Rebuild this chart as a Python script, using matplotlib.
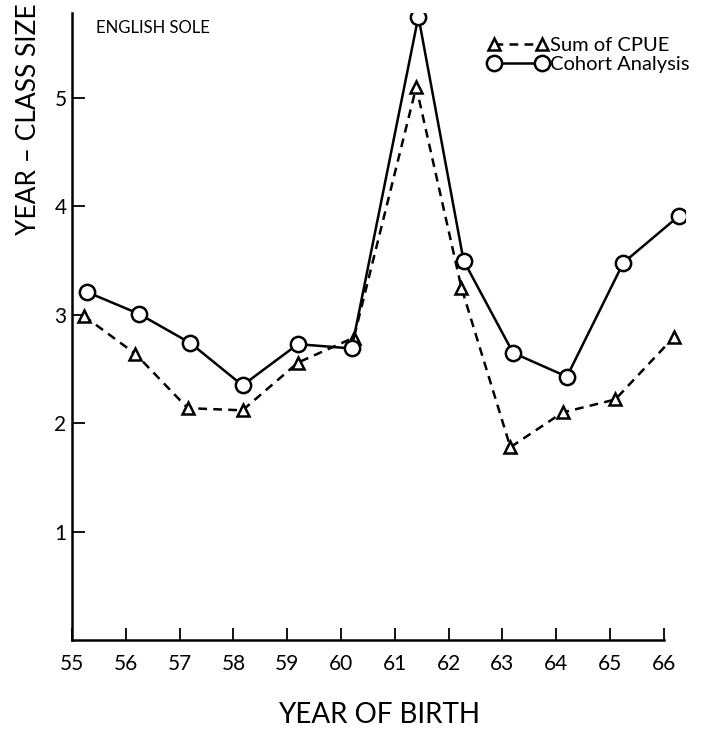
import matplotlib.pyplot as plt

# values (x is slightly offset from the year ticks)
x_cohort = [55.28, 56.24, 57.2, 58.17, 59.2, 60.2, 61.44, 62.28, 63.2, 64.2, 65.25, 66.28]
y_cohort = [3.21, 3.01, 2.74, 2.35, 2.73, 2.69, 5.75, 3.50, 2.65, 2.43, 3.48, 3.91]

x_cpue = [55.22, 56.18, 57.15, 58.17, 59.2, 60.24, 61.4, 62.24, 63.15, 64.12, 65.1, 66.2]
y_cpue = [2.99, 2.64, 2.14, 2.12, 2.56, 2.79, 5.10, 3.25, 1.78, 2.10, 2.22, 2.80]

x_ticks = list(range(55, 67))
y_ticks = [1, 2, 3, 4, 5]

FONT = "Lato"


def main():
    plt.rcParams['font.family'] = [FONT, 'DejaVu Sans']
    fig = plt.figure(figsize=(7.13, 7.36), dpi=100)
    ax = fig.add_axes([0.101, 0.130, 0.860, 0.852])

    ax.plot(x_cpue, y_cpue, color="black", linestyle=(0, (3.5, 2.5)), linewidth=1.8,
            marker="^", markersize=9, markerfacecolor="white", markeredgewidth=1.8,
            label="Sum of CPUE")
    ax.plot(x_cohort, y_cohort, color="black", linestyle="-", linewidth=1.8,
            marker="o", markersize=11, markerfacecolor="white", markeredgewidth=1.8,
            label="Cohort Analysis")

    ax.set_xlim(55, 66.4)
    ax.set_ylim(0, 5.78)
    for s in ["top", "right"]:
        ax.spines[s].set_visible(False)
    ax.spines["left"].set_linewidth(1.8)
    ax.spines["bottom"].set_linewidth(1.8)
    ax.spines["bottom"].set_bounds(55, 66)

    ax.set_xticks(x_ticks)
    ax.set_xticklabels([str(t) for t in x_ticks], fontsize=15)
    ax.set_yticks(y_ticks)
    ax.set_yticklabels([str(t) for t in y_ticks], fontsize=15)
    ax.tick_params(axis="both", direction="in", length=9, width=1.3)
    ax.tick_params(axis="x", pad=10)
    ax.tick_params(axis="y", pad=4)

    ax.set_xlabel("YEAR OF BIRTH", fontsize=20, labelpad=20)
    fig.text(0.04, 0.996, "YEAR – CLASS SIZE", rotation=90, fontsize=19,
             ha="center", va="top")

    ax.text(55.45, 5.72, "ENGLISH SOLE", fontsize=12, va="top", ha="left")

    ax.legend(loc="upper right", bbox_to_anchor=(1.02, 0.975), frameon=False,
              fontsize=14.5, numpoints=2, handlelength=3.0, handletextpad=0.1,
              labelspacing=0.1, borderaxespad=0)

    fig.savefig("out.png", dpi=100)


if __name__ == "__main__":
    main()
